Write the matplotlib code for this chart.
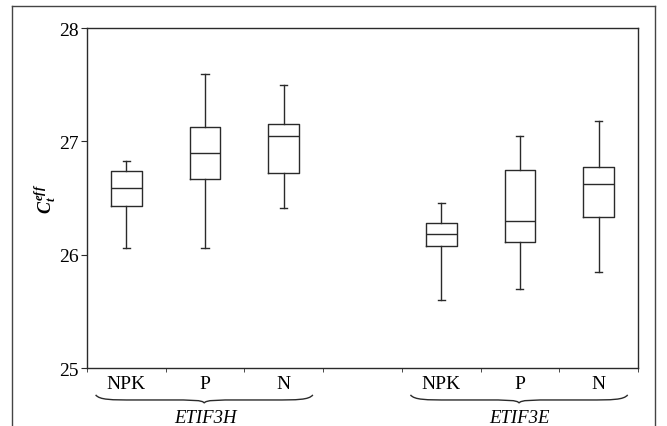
import numpy as np
import matplotlib
matplotlib.use("Agg")
import matplotlib.pyplot as plt
from matplotlib.path import Path
from matplotlib.patches import PathPatch
from matplotlib.lines import Line2D
from matplotlib import transforms

plt.rcParams['font.family'] = ['Liberation Serif', 'DejaVu Serif']
plt.rcParams['mathtext.fontset'] = 'custom'
plt.rcParams['mathtext.it'] = 'Liberation Serif:italic:bold'
plt.rcParams['mathtext.rm'] = 'Liberation Serif:bold'

# box statistics
treatments = ["NPK", "P", "N", "NPK", "P", "N"]
genes = ["ETIF3H", "ETIF3E"]
positions = [1, 2, 3, 5, 6, 7]
whislo = [26.06, 26.06, 26.41, 25.60, 25.70, 25.85]
q1     = [26.43, 26.67, 26.72, 26.08, 26.11, 26.33]
med    = [26.585, 26.90, 27.05, 26.18, 26.30, 26.62]
q3     = [26.735, 27.13, 27.15, 26.28, 26.75, 26.77]
whishi = [26.83, 27.59, 27.50, 26.46, 27.05, 27.18]

stats = []
for i in range(len(positions)):
    stats.append(dict(med=med[i], q1=q1[i], q3=q3[i], whislo=whislo[i],
                      whishi=whishi[i], fliers=[]))

fig = plt.figure(figsize=(6.67, 4.27), dpi=100)
ax = fig.add_axes([0.1304, 0.1358, 0.826, 0.7962])

lc = '#2a2a2a'
ax.bxp(stats, positions=positions, widths=0.39, capwidths=0.09,
       boxprops=dict(color=lc, lw=1.0), medianprops=dict(color=lc, lw=1.0),
       whiskerprops=dict(color=lc, lw=1.0), capprops=dict(color=lc, lw=1.0),
       showfliers=False, manage_ticks=False)

ax.set_xlim(0.5, 7.5)
ax.set_ylim(25, 28)
ax.set_yticks([25, 26, 27, 28])
ax.tick_params(axis='y', direction='out', length=4, labelsize=14, pad=2, color=lc)
ax.set_xticks(positions)
ax.set_xticklabels(treatments)
ax.set_xticks(np.arange(0.5, 8, 1), minor=True)
ax.tick_params(axis='x', which='major', length=0, labelsize=14, pad=5)
ax.tick_params(axis='x', which='minor', direction='out', length=3, color=lc)
for s in ax.spines.values():
    s.set_color(lc)
    s.set_linewidth(1.0)

ax.set_ylabel(r'$C_t^{eff}$', fontsize=13, labelpad=1)

# curly braces under each group
trans = transforms.blended_transform_factory(ax.transData, ax.transAxes)
def brace(x0, x1, y_end, y_body, y_tip):
    xm = (x0 + x1) / 2
    d = 0.5
    verts = [(x0, y_end), (x0 + d * 0.1, y_body), (x0 + d * 0.4, y_body), (x0 + d, y_body),
             (xm - d, y_body),
             (xm - d * 0.3, y_body), (xm - 0.02, y_body), (xm, y_tip),
             (xm + 0.02, y_body), (xm + d * 0.3, y_body), (xm + d, y_body),
             (x1 - d, y_body),
             (x1 - d * 0.4, y_body), (x1 - d * 0.1, y_body), (x1, y_end)]
    codes = [Path.MOVETO, Path.CURVE4, Path.CURVE4, Path.CURVE4,
             Path.LINETO,
             Path.CURVE4, Path.CURVE4, Path.CURVE4,
             Path.CURVE4, Path.CURVE4, Path.CURVE4,
             Path.LINETO,
             Path.CURVE4, Path.CURVE4, Path.CURVE4]
    p = PathPatch(Path(verts, codes), transform=trans, fill=False,
                  ec=lc, lw=1.0, clip_on=False)
    ax.add_patch(p)

for g, (a, b) in enumerate([(1, 3), (5, 7)]):
    brace(a - 0.39, b + 0.37, -0.079, -0.094, -0.103)
    ax.text((a + b) / 2, -0.145, genes[g], transform=trans, ha='center',
            va='center', fontsize=13.5, style='italic')

# outer frame, open at the bottom
for xs, ys in [([12, 12], [427, 7]), ([12, 655], [7, 7]), ([655, 655], [7, 427])]:
    fig.add_artist(Line2D([x / 667 for x in xs], [1 - y / 427 for y in ys],
                          transform=fig.transFigure, color='#444444', lw=1.0))

fig.savefig('out.png', dpi=100)
